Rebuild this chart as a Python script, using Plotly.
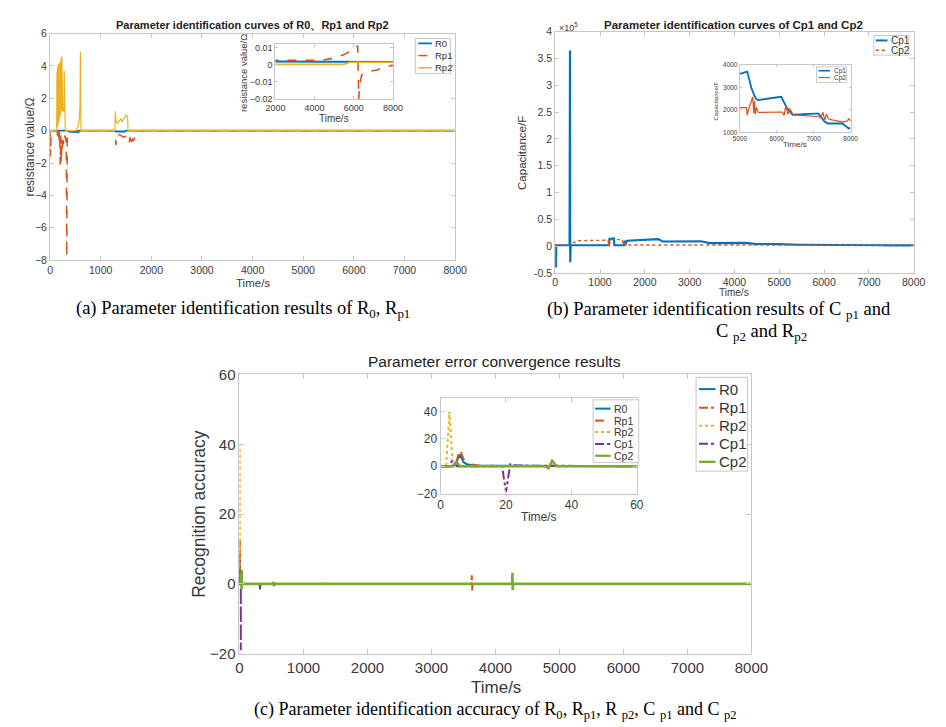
import plotly.graph_objects as go

W, H = 946, 727

# ---------------- (a) resistance identification ----------------
t_R0_a = [0, 360, 380, 560, 580, 1290, 1300, 1480, 1500, 8000]
v_R0_a = [0.002, 0.002, -0.05, -0.1, 0.002, 0.002, -0.05, -0.05, 0.002, 0.0017]

t_Rp1_a = [0, 10, 20, 140, 150, 160, 175, 190, 200, 210, 222, 234, 246, 258, 270, 290, 310, 320, 330, 340, 360,
           1290, 1300, 1320, 1400, 1450, 1500, 1530, 1560, 1580, 1600, 1620, 1650, 1680, 1700,
           2000, 4400, 5000, 5500, 6000, 6200, 6250, 6300, 6400, 6700, 7200, 7600, 8000]
v_Rp1_a = [0, -1.6, 0, 0, -0.5, 0, -0.8, 0, -2.1, -0.3, -2.0, -0.5, -1.3, -0.6, -0.9, -0.3, -0.5, -1.0, -7.8, -0.5, 0,
           0, -0.9, -0.2, -0.3, -0.4, -0.35, -0.6, -0.8, -0.4, -0.95, -0.5, -0.6, -0.4, 0,
           0.0027, 0.0027, 0.004, 0.006, 0.009, 0.0112, -0.02, -0.012, -0.006, -0.004, -0.003, -0.001, -0.0005]

t_Rp2_a = [0, 130, 136, 142, 148, 154, 160, 166, 172, 178, 184, 190, 196, 202, 208, 214, 220, 226, 232, 238, 244,
           250, 256, 262, 268, 274, 280, 286, 292, 298, 304,
           500, 520, 540, 560, 575, 590, 600, 608, 615,
           1280, 1290, 1300, 1330, 1400, 1420, 1500, 1530, 1540,
           2000, 5500, 5800, 8000]
v_Rp2_a = [0, 0, 3.6, 0.2, 3.9, 0.3, 4.1, 0.5, 4.0, 0.6, 4.2, 0.8, 4.1, 1.0, 4.3, 1.1, 4.5, 1.2, 4.6, 1.3, 4.4,
           1.2, 1.3, 1.2, 1.3, 1.2, 3.7, 1.2, 3.5, 0.3, 0,
           0, 0.05, 0.15, 0.35, 0.6, 1.5, 4.9, 0.5, 0,
           0, 1.2, 0.6, 0.45, 0.75, 0.55, 0.95, 0.9, 0,
           0.0003, 0.0003, 0.0015, 0.0015]

# ---------------- (b) capacitance identification ----------------
t_Cp1_b = [0, 15, 25, 320, 330, 335, 345, 1200, 1210, 1310, 1320, 1540, 1550, 1560, 1600, 2300, 2400, 3250,
           3450, 4250, 4450, 5000, 5200, 5320, 5430, 5490, 6120, 6280, 6430, 7030, 7130, 7290, 7380, 7780, 7950, 8000]
v_Cp1_b = [4000, -40000, 1500, 1500, 365000, -30000, 1500, 1500, 13000, 14000, 1500, 1500, 10000, 1500, 10000,
           13000, 8500, 9000, 5500, 6000, 4000, 3600, 3700, 2940, 2510, 2430, 2580, 2070, 1780, 1830, 1830, 1490,
           1390, 1390, 1170, 1200]

t_Cp2_b = [0, 300, 500, 1180, 1190, 1200, 1210, 1220, 1500, 1520, 1540, 1560, 1600, 5000, 5180, 5200, 5250, 5300,
           5350, 5380, 5400, 5420, 5450, 5500, 6150, 6200, 6250, 6300, 6350, 6450, 7100, 7200, 7250, 7300, 7350,
           7400, 7500, 7800, 7900, 7950, 8000]
v_Cp2_b = [2000, 2000, 10000, 11000, 0, 11000, 1000, 12000, 12000, 1000, 10000, 2000, 2100, 2100, 2100, 1750,
           2100, 2300, 2580, 1850, 2400, 1800, 2100, 1880, 1900, 1750, 2200, 1800, 2050, 1770, 1700, 1650, 1900,
           1550, 1800, 1600, 1550, 1450, 1500, 1600, 1500]

# ---------------- (c) parameter error convergence ----------------
t_R0_c = [0, 4, 5, 5.9, 7, 8, 10, 60, 8000]
v_R0_c = [0, 0, 4, 8.4, 3, 1.5, 0.5, 0, 0]
t_Rp1_c = [0, 4.5, 5.9, 7, 8, 10, 12, 60, 3625, 3630, 3635, 3640, 8000]
v_Rp1_c = [0, 0, 12.7, 5, 2, 1, 0.3, 0, 0, 2.5, -1.9, 0, 0]
t_Rp2_c = [0, 1.7, 2.7, 3.7, 5, 60, 8000]
v_Rp2_c = [0, 0, 40, 0, 0, 0, 0]
t_Cp1_c = [0, 2.5, 3.7, 5, 6, 18.8, 20, 21.3, 23, 60, 315, 320, 325, 525, 530, 535, 555, 560, 565, 8000]
v_Cp1_c = [0, 0, 4.3, 0, 0, 0, -19, 1.5, 0.5, 0, 0, -1.7, 0, 0, 0.6, -0.5, 0, 0.5, 0, 0]
t_Cp2_c = [0, 3.5, 4.9, 6, 32, 33, 34.1, 35.5, 60, 1300, 1305, 1310, 1500, 1505, 1510, 4260, 4265, 4270, 4275, 8000]
v_Cp2_c = [0, 0, 3, 0, 0, -1.5, 4, 0, 0, 0, 0.4, 0, 0, 0.3, 0, 0, 3.2, -1.7, 0, 0]

# ---------------- ticks ----------------
xt_main = [0, 1000, 2000, 3000, 4000, 5000, 6000, 7000, 8000]
yt_a = [-8, -6, -4, -2, 0, 2, 4, 6]
xt_a_in = [2000, 4000, 6000, 8000]
yt_a_in = [-0.02, -0.01, 0, 0.01]
yt_b = [-50000, 0, 50000, 100000, 150000, 200000, 250000, 300000, 350000, 400000]
yt_b_txt = ["-0.5", "0", "0.5", "1", "1.5", "2", "2.5", "3", "3.5", "4"]
xt_b_in = [5000, 6000, 7000, 8000]
yt_b_in = [1000, 2000, 3000, 4000]
yt_c = [-20, 0, 20, 40, 60]
xt_c_in = [0, 20, 40, 60]
yt_c_in = [-20, 0, 20, 40]

BLUE, ORANGE, YELLOW, PURPLE, GREEN = "#0072BD", "#D95319", "#EDB120", "#7E2F8E", "#77AC30"
SANS = "Liberation Sans, Arial, sans-serif"
SERIF = "Liberation Serif, Times New Roman, serif"
AXC = "#c6c6c6"
TXC = "#3a3a3a"


def xd(l, r):
    return [l / W, r / W]


def yd(t, b):
    return [1 - b / H, 1 - t / H]


fig = go.Figure()


def add(x, y, ax, color, width, dash="solid"):
    fig.add_trace(go.Scatter(x=x, y=y, mode="lines", xaxis="x" + ax, yaxis="y" + ax,
                             line=dict(color=color, width=width, dash=dash), showlegend=False,
                             hoverinfo="skip"))


# (a) main + inset
add(t_R0_a, v_R0_a, "", BLUE, 1.8)
add(t_Rp1_a, v_Rp1_a, "", ORANGE, 1.5, "dash")
add(t_Rp2_a, v_Rp2_a, "", YELLOW, 1.2)
add(t_R0_a, v_R0_a, "2", BLUE, 1.9)
add(t_Rp1_a, v_Rp1_a, "2", ORANGE, 1.6, "dash")
add(t_Rp2_a, v_Rp2_a, "2", YELLOW, 1.6)
# (b)
add(t_Cp1_b, v_Cp1_b, "3", BLUE, 2.2)
add(t_Cp2_b, v_Cp2_b, "3", ORANGE, 1.4, "dot")
add(t_Cp1_b, v_Cp1_b, "4", BLUE, 1.8)
add(t_Cp2_b, v_Cp2_b, "4", ORANGE, 1.2)
# (c)
add(t_R0_c, v_R0_c, "5", BLUE, 2)
add(t_Rp1_c, v_Rp1_c, "5", ORANGE, 2, "dashdot")
add(t_Rp2_c, v_Rp2_c, "5", YELLOW, 2, "dot")
add(t_Cp1_c, v_Cp1_c, "5", PURPLE, 2, "dashdot")
add(t_Cp2_c, v_Cp2_c, "5", GREEN, 2.6)
add(t_R0_c, v_R0_c, "6", BLUE, 2)
add(t_Rp1_c, v_Rp1_c, "6", ORANGE, 2, "dash")
add(t_Rp2_c, v_Rp2_c, "6", YELLOW, 2, "dot")
add(t_Cp1_c, v_Cp1_c, "6", PURPLE, 2, "dashdot")
add(t_Cp2_c, v_Cp2_c, "6", GREEN, 2.4)


def axis(dom, rng, tv, fs, tt=None, anchor=None, ticklen=4):
    d = dict(domain=dom, range=rng, tickvals=tv, showline=True, linecolor=AXC, linewidth=1,
             mirror="ticks", ticks="inside", ticklen=ticklen, tickcolor=AXC, showgrid=False,
             zeroline=False, tickfont=dict(family=SANS, size=fs, color=TXC), anchor=anchor)
    if tt is not None:
        d["ticktext"] = tt
    return d


lay = dict(
    xaxis=axis(xd(33, 450), [0, 8000], xt_main, 10.5, anchor="y"),
    yaxis=axis(yd(17, 249), [-8, 6], yt_a, 10.5, anchor="x"),
    xaxis2=axis(xd(265, 386), [2000, 8000], xt_a_in, 9, anchor="y2", ticklen=3),
    yaxis2=axis(yd(28, 84), [-0.02, 0.012], yt_a_in, 9, anchor="x2", ticklen=3),
    xaxis3=axis(xd(553, 922), [0, 8000], xt_main, 10.5, anchor="y3"),
    yaxis3=axis(yd(15, 262), [-50000, 400000], yt_b, 10.5, yt_b_txt, anchor="x3"),
    xaxis4=axis(xd(743, 857), [5000, 8000], xt_b_in, 6.5, anchor="y4", ticklen=2),
    yaxis4=axis(yd(49, 118), [1000, 4000], yt_b_in, 6.5, anchor="x4", ticklen=2),
    xaxis5=axis(xd(228, 755), [0, 8000], xt_main, 15, anchor="y5", ticklen=5),
    yaxis5=axis(yd(366, 652), [-20, 60], yt_c, 15, anchor="x5", ticklen=5),
    xaxis6=axis(xd(435, 637), [0, 60], xt_c_in, 12, anchor="y6"),
    yaxis6=axis(yd(390, 488), [-20, 50], yt_c_in, 12, anchor="x6"),
)
fig.update_layout(**lay)

ann = []
shapes = []


def text(s, x, y, size, family=SANS, color=TXC, angle=0, bold=False, xanchor="center"):
    ann.append(dict(text=("<b>%s</b>" % s) if bold else s, x=x / W, y=1 - y / H, xref="paper", yref="paper",
                    showarrow=False, xanchor=xanchor, yanchor="middle", textangle=angle,
                    font=dict(family=family, size=size, color=color)))


# titles and axis labels
text("Parameter identification curves of R0、Rp1 and Rp2", 241.5, 8, 11, bold=True, color="#222")
text("resistance value/Ω", 12, 133, 12, angle=-90)
text("Time/s", 242, 272, 11.5)
text("resistance value/Ω", 232, 57, 9.5, angle=-90)
text("Time/s", 325, 104, 10)

text("Parameter identification curves of Cp1 and Cp2", 737, 8, 11.5, bold=True, color="#222")
text("×10<sup>5</sup>", 567, 10, 9)
text("Capacitance/F", 519, 139, 11.5, angle=-90)
text("Time/s", 737, 282, 10)
text("Capacitance/F", 718, 86, 6, angle=-90)
text("Time/s", 800, 131, 8)

text("Parameter error convergence results", 491, 353, 15.5, color="#222")
text("Recognition accuracy", 186, 509, 17.5, angle=-90)
text("Time/s", 492, 687, 17)
text("Time/s", 536, 512, 12)

# captions
text("(a) Parameter identification results of R<sub>0</sub>, R<sub>p1</sub>", 232, 299, 18.5, SERIF, "#000")
text("(b) Parameter identification results of C <sub>p1</sub> and", 722, 301, 18.5, SERIF, "#000")
text("C <sub>p2</sub> and R<sub>p2</sub>", 765, 323, 18.5, SERIF, "#000")
text("(c) Parameter identification accuracy of R<sub>0</sub>, R<sub>p1</sub>, R <sub>p2</sub>, "
     "C <sub>p1</sub> and C <sub>p2</sub>", 492, 710, 18, SERIF, "#000")


def legend(box, rows, entries, sample, fs):
    l, t, r, b = box
    shapes.append(dict(type="rect", xref="paper", yref="paper", x0=l / W, x1=r / W, y0=1 - b / H, y1=1 - t / H,
                       line=dict(color=AXC, width=1), fillcolor="white"))
    s0, s1 = sample
    for (name, color, dash, width), yc in zip(entries, rows):
        shapes.append(dict(type="line", xref="paper", yref="paper", x0=s0 / W, x1=s1 / W,
                           y0=1 - yc / H, y1=1 - yc / H, line=dict(color=color, width=width, dash=dash)))
        text(name, s1 + 1.5, yc, fs, xanchor="left", color="#333")


legend((409, 22, 445, 58), [27, 39.5, 52],
       [("R0", BLUE, "solid", 1.8), ("Rp1", ORANGE, "dash", 1.5), ("Rp2", YELLOW, "solid", 1.5)],
       (412, 426), 9.5)
legend((881, 19, 917, 39), [24, 34],
       [("Cp1", BLUE, "solid", 2), ("Cp2", ORANGE, "dot", 1.4)], (883, 895), 10)
legend((822, 51, 853, 67), [55, 62],
       [("Cp1", BLUE, "solid", 1.6), ("Cp2", ORANGE, "solid", 1.1)], (824, 836), 6.5)
legend((698, 369, 751, 465), [381, 400, 418.5, 437, 455.5],
       [("R0", BLUE, "solid", 2), ("Rp1", ORANGE, "dashdot", 2), ("Rp2", YELLOW, "dot", 2),
        ("Cp1", PURPLE, "dashdot", 2), ("Cp2", GREEN, "solid", 2.4)], (701, 718), 15)
legend((592, 392, 639, 456), [401, 413.3, 425, 437.3, 449.3],
       [("R0", BLUE, "solid", 2), ("Rp1", ORANGE, "dash", 2), ("Rp2", YELLOW, "dot", 2),
        ("Cp1", PURPLE, "dashdot", 2), ("Cp2", GREEN, "solid", 2.2)], (594, 610), 10.5)

fig.update_layout(width=W, height=H, margin=dict(l=0, r=0, t=0, b=0), paper_bgcolor="white",
                  plot_bgcolor="white", showlegend=False, annotations=ann, shapes=shapes)
fig.write_html("out.html")
